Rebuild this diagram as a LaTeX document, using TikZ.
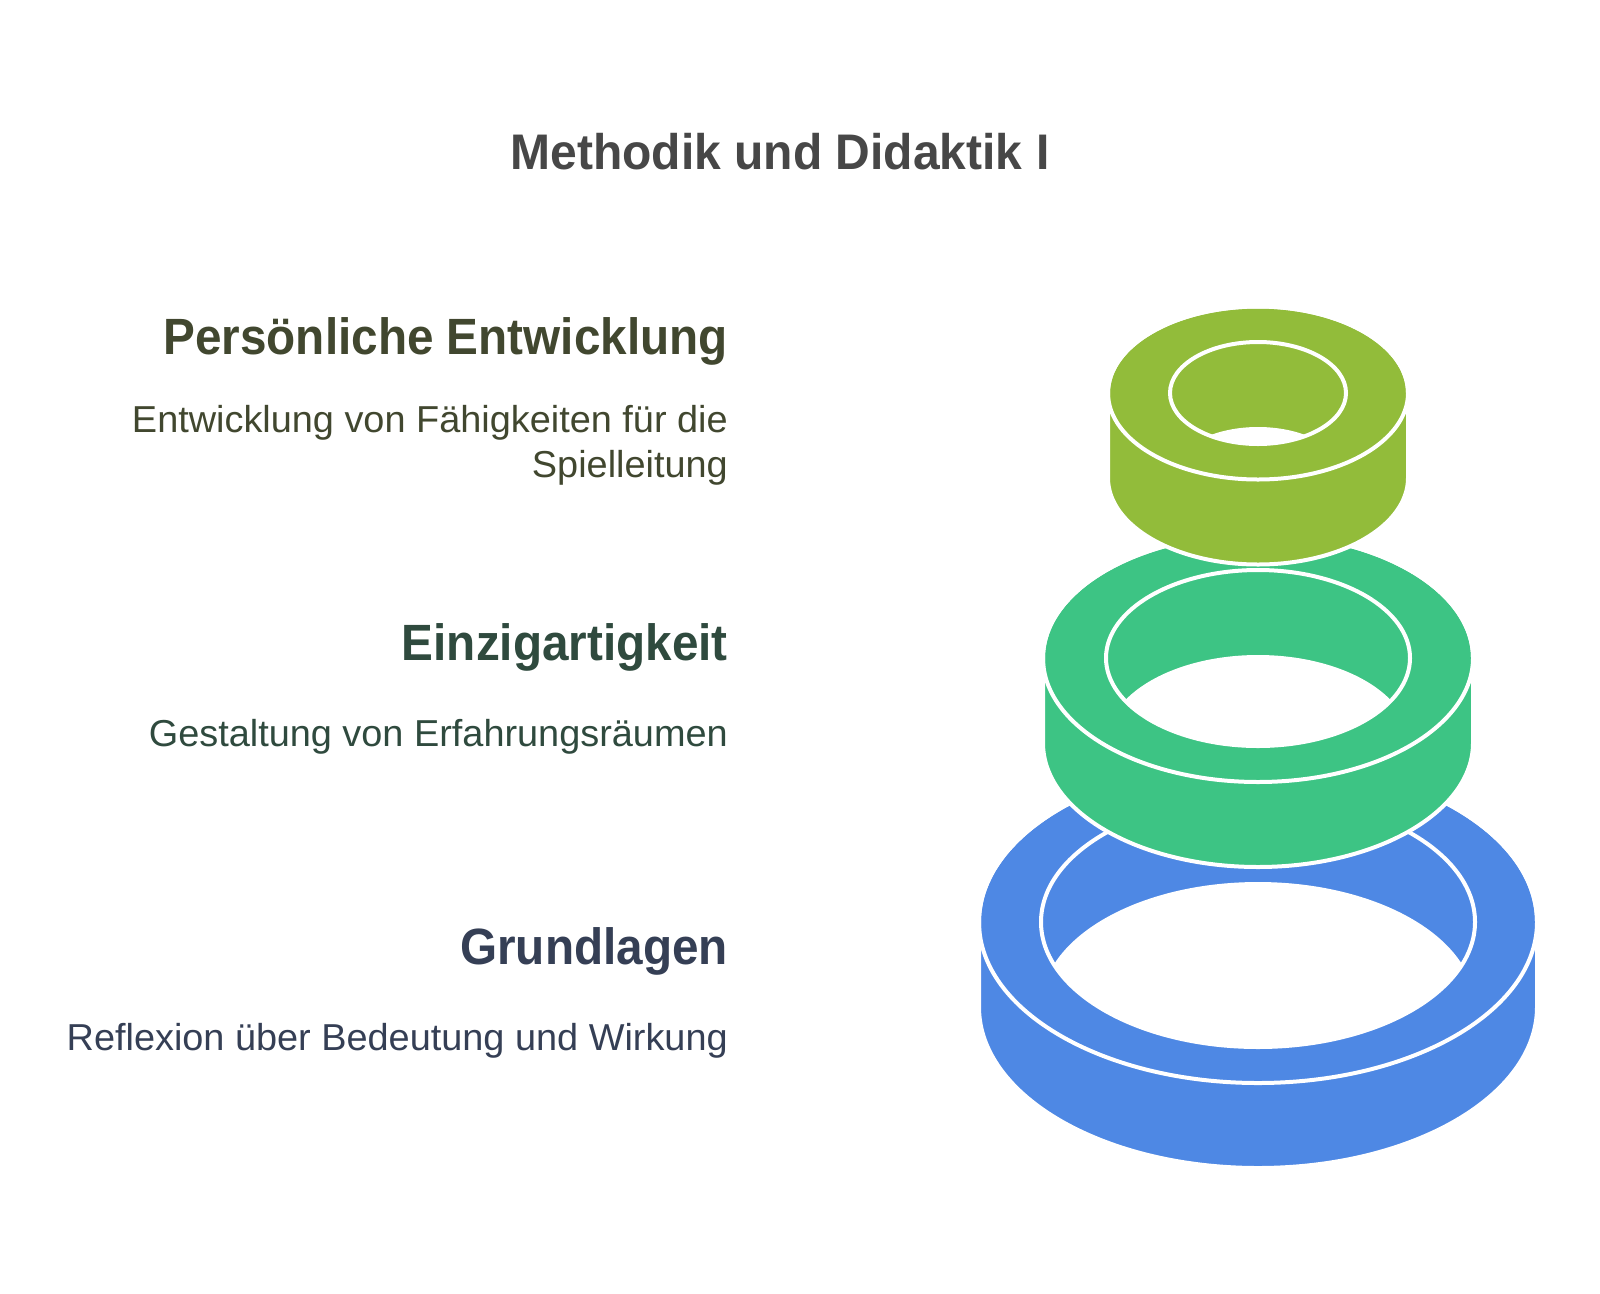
\documentclass[tikz,border=0pt]{standalone}
\usepackage{fontspec}
\setmainfont{Liberation Sans}
\newfontfamily\titlefont[FakeStretch=0.96]{Liberation Sans Bold}
\newfontfamily\headfont[FakeStretch=0.935]{Liberation Sans Bold}
\newfontfamily\descfont[FakeStretch=1.01]{Liberation Sans}
\definecolor{ringyellow}{HTML}{92BC3A}
\definecolor{ringgreen}{HTML}{3DC484}
\definecolor{ringblue}{HTML}{4E88E4}
\definecolor{titlegray}{HTML}{474747}
\definecolor{txtyellow}{HTML}{41472F}
\definecolor{txtgreen}{HTML}{2F4A3E}
\definecolor{txtblue}{HTML}{353F55}
\newcommand{\drawring}[8]{%
  % #1 cx, #2 cy, #3 R, #4 Ry, #5 r, #6 ry, #7 h, #8 colour
  \path[fill=#8, ringline]
    (#1-#3,#2) -- (#1-#3,#2-#7)
    arc[start angle=180, end angle=360, x radius=#3, y radius=#4]
    -- (#1+#3,#2)
    arc[start angle=0, end angle=180, x radius=#3, y radius=#4] -- cycle;
  \begin{scope}
    \clip (#1,#2) ellipse [x radius=#5, y radius=#6];
    \fill[white] (#1,#2-#7) ellipse [x radius=#5, y radius=#6];
  \end{scope}
  \draw[ringline] (#1,#2) ellipse [x radius=#5, y radius=#6];
  \draw[ringline] (#1,#2) ellipse [x radius=#3, y radius=#4];
}
\begin{document}
\begin{tikzpicture}[x=1pt, y=1pt,
  ringline/.style={draw=white, line width=4pt, line join=round},
  titletext/.style={font=\titlefont\fontsize{50}{60}\selectfont, text=titlegray, inner sep=0pt},
  headtext/.style={font=\headfont\fontsize{51}{61}\selectfont, inner sep=0pt, anchor=base east},
  desctext/.style={font=\descfont\fontsize{37.5}{45}\selectfont, inner sep=0pt, anchor=base east}]
\useasboundingbox (0,0) rectangle (1600,-1293);
\fill[white] (0,0) rectangle (1600,-1293);

% rings, bottom to top
\drawring{1258}{-922}{279}{161}{217}{125}{85}{ringblue}
\drawring{1258}{-658}{215}{124}{152}{88}{85}{ringgreen}
\drawring{1258}{-393}{150}{86.5}{88}{51}{85}{ringyellow}

% title
\node[titletext, anchor=base] (title) at (780,-169) {Methodik und Didaktik I};

% texts
\node[headtext, text=txtyellow] (h1) at (728,-354) {Persönliche Entwicklung};
\node[desctext, text=txtyellow] (d1a) at (728,-432) {Entwicklung von Fähigkeiten für die};
\node[desctext, text=txtyellow] (d1b) at (728,-477) {Spielleitung};

\node[headtext, text=txtgreen] (h2) at (728,-660) {Einzigartigkeit};
\node[desctext, text=txtgreen] (d2) at (728,-746) {Gestaltung von Erfahrungsräumen};

\node[headtext, text=txtblue] (h3) at (728,-964) {Grundlagen};
\node[desctext, text=txtblue] (d3) at (728,-1050) {Reflexion über Bedeutung und Wirkung};
\end{tikzpicture}
\end{document}
